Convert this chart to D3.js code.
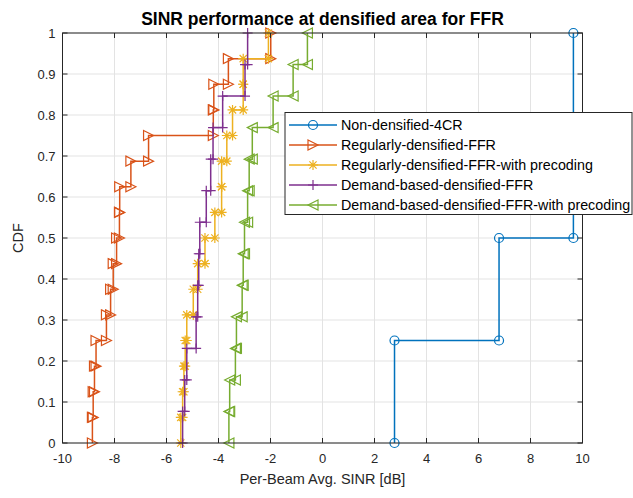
<!DOCTYPE html>
<html>
<head>
<meta charset="utf-8">
<script src="https://cdn.jsdelivr.net/npm/d3@7"></script>
<style>
  html, body { margin: 0; padding: 0; background: #fff; }
  svg { display: block; font-family: "Liberation Sans", Arial, Helvetica, sans-serif; }
</style>
</head>
<body>
<svg id="chart" width="633" height="498"></svg>
<script>
// ---- Data (sorted per-beam SINR samples, dB) ----
const seriesNames = [
  "Non-densified-4CR",
  "Regularly-densified-FFR",
  "Regularly-densified-FFR-with precoding",
  "Demand-based-densified-FFR",
  "Demand-based-densified-FFR-with precoding"
];
const nonDensified4CR = [2.77, 6.79, 9.65, 9.65];
const regularFFR = [-8.85, -8.82, -8.77, -8.71, -8.31, -8.15, -8.05, -7.92,
                    -7.81, -7.80, -7.37, -6.69, -4.20, -4.18, -3.62, -1.99];
const regularFFRPrecoding = [-5.45, -5.38, -5.33, -5.28, -5.22, -4.97, -4.80, -4.52,
                             -4.14, -3.88, -3.88, -3.68, -3.46, -3.05, -3.05, -2.08];
const demandFFR = [-5.38, -5.30, -5.22, -4.86, -4.80, -4.76, -4.72, -4.47,
                   -4.30, -4.21, -3.84, -2.98, -2.88];
const demandFFRPrecoding = [-3.60, -3.57, -3.35, -3.31, -3.09, -3.05, -3.00, -2.88,
                            -2.82, -2.70, -1.90, -1.13, -0.58];
const xTicks = [-10, -8, -6, -4, -2, 0, 2, 4, 6, 8, 10];
const yTicks = [0, 0.1, 0.2, 0.3, 0.4, 0.5, 0.6, 0.7, 0.8, 0.9, 1];
const titleText = "SINR performance at densified area for FFR";
const xLabelText = "Per-Beam Avg. SINR [dB]";
const yLabelText = "CDF";

const allSeries = [nonDensified4CR, regularFFR, regularFFRPrecoding, demandFFR, demandFFRPrecoding];
const colors = ["#0072BD", "#D95319", "#EDB120", "#7E2F8E", "#77AC30"];
const markers = ["circle", "triRight", "star", "plus", "triLeft"];

// ---- Layout ----
const svg = d3.select("#chart");
const L = 62.5, R = 582.5, T = 33, B = 443;
const x = d3.scaleLinear().domain([-10, 10]).range([L, R]);
const y = d3.scaleLinear().domain([0, 1]).range([B, T]);
const axisColor = "#262626";

// grid
const g = svg.append("g");
g.selectAll(".gx").data(xTicks).enter().append("line")
  .attr("x1", d => x(d)).attr("x2", d => x(d)).attr("y1", T).attr("y2", B)
  .attr("stroke", "#e3e3e3").attr("stroke-width", 1);
g.selectAll(".gy").data(yTicks).enter().append("line")
  .attr("y1", d => y(d)).attr("y2", d => y(d)).attr("x1", L).attr("x2", R)
  .attr("stroke", "#e3e3e3").attr("stroke-width", 1);

// empirical CDF stairs vertices
function stairs(samples) {
  const n = samples.length;
  const pts = [[samples[0], 0]];
  for (let i = 0; i < n; i++) {
    pts.push([samples[i], (i + 1) / n]);
    if (i < n - 1) pts.push([samples[i + 1], (i + 1) / n]);
  }
  return pts;
}

function drawMarker(sel, type, color) {
  const s = 5;
  sel.attr("fill", "none").attr("stroke", color).attr("stroke-width", 1.2);
  if (type === "circle") {
    sel.append("circle").attr("r", 4.5);
  } else if (type === "triRight") {
    sel.append("path").attr("d", `M${-s},${-s}L${s},0L${-s},${s}Z`);
  } else if (type === "triLeft") {
    sel.append("path").attr("d", `M${s},${-s}L${-s},0L${s},${s}Z`);
  } else if (type === "plus") {
    sel.append("path").attr("d", `M${-s},0L${s},0M0,${-s}L0,${s}`);
  } else if (type === "star") {
    const d = s * 0.72;
    sel.append("path").attr("d",
      `M${-s},0L${s},0M0,${-s}L0,${s}M${-d},${-d}L${d},${d}M${-d},${d}L${d},${-d}`);
  }
}

const line = d3.line().x(d => x(d[0])).y(d => y(d[1]));
allSeries.forEach((samples, i) => {
  const pts = stairs(samples);
  const sg = svg.append("g");
  sg.append("path").attr("d", line(pts)).attr("fill", "none")
    .attr("stroke", colors[i]).attr("stroke-width", 1.5);
  sg.selectAll("g.m").data(pts).enter().append("g")
    .attr("transform", d => `translate(${x(d[0])},${y(d[1])})`)
    .each(function () { drawMarker(d3.select(this), markers[i], colors[i]); });
});

// axes box
svg.append("rect").attr("x", L).attr("y", T).attr("width", R - L).attr("height", B - T)
  .attr("fill", "none").attr("stroke", axisColor).attr("stroke-width", 1);
const tl = 5;
xTicks.forEach(t => {
  svg.append("line").attr("x1", x(t)).attr("x2", x(t)).attr("y1", B).attr("y2", B - tl).attr("stroke", axisColor);
  svg.append("line").attr("x1", x(t)).attr("x2", x(t)).attr("y1", T).attr("y2", T + tl).attr("stroke", axisColor);
  svg.append("text").attr("x", x(t)).attr("y", B + 20).attr("text-anchor", "middle")
    .attr("font-size", 13).attr("fill", axisColor).text(t);
});
yTicks.forEach(t => {
  svg.append("line").attr("y1", y(t)).attr("y2", y(t)).attr("x1", L).attr("x2", L + tl).attr("stroke", axisColor);
  svg.append("line").attr("y1", y(t)).attr("y2", y(t)).attr("x1", R).attr("x2", R - tl).attr("stroke", axisColor);
  svg.append("text").attr("x", L - 7).attr("y", y(t) + 4.5).attr("text-anchor", "end")
    .attr("font-size", 13).attr("fill", axisColor).text(d3.format("~g")(t));
});

// titles
svg.append("text").attr("x", (L + R) / 2).attr("y", 25).attr("text-anchor", "middle")
  .attr("font-size", 17.5).attr("font-weight", "bold").attr("fill", "#000").text(titleText);
svg.append("text").attr("x", (L + R) / 2).attr("y", 484).attr("text-anchor", "middle")
  .attr("font-size", 14.5).attr("fill", axisColor).text(xLabelText);
svg.append("text").attr("transform", `translate(23,${(T + B) / 2}) rotate(-90)`)
  .attr("text-anchor", "middle").attr("font-size", 14.5).attr("fill", axisColor).text(yLabelText);

// legend
const lg = svg.append("g");
lg.append("rect").attr("x", 285).attr("y", 112.5).attr("width", 347).attr("height", 102)
  .attr("fill", "#fff").attr("stroke", axisColor).attr("stroke-width", 1);
seriesNames.forEach((name, i) => {
  const yy = 125 + i * 20;
  lg.append("line").attr("x1", 289).attr("x2", 337).attr("y1", yy).attr("y2", yy)
    .attr("stroke", colors[i]).attr("stroke-width", 1.5);
  const mg = lg.append("g").attr("transform", `translate(313,${yy})`);
  drawMarker(mg, markers[i], colors[i]);
  lg.append("text").attr("x", 341).attr("y", yy + 5).attr("font-size", 14.3)
    .attr("fill", "#000").text(name);
});
</script>
</body>
</html>
